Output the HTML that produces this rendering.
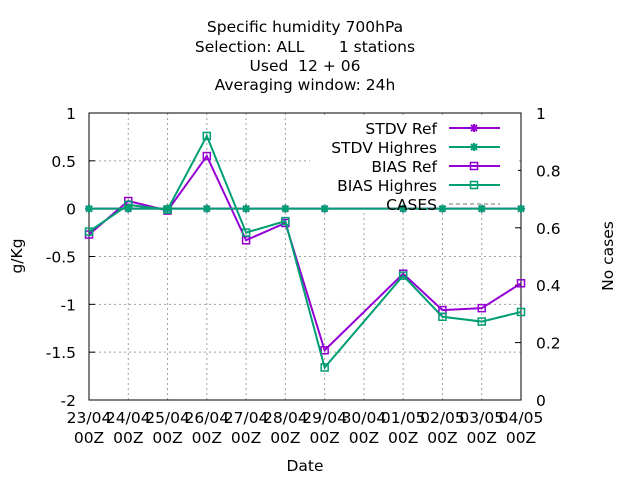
<!DOCTYPE html>
<html><head><meta charset="utf-8"><style>
body{margin:0;background:#fff}
svg{font-family:"DejaVu Sans","Liberation Sans",sans-serif;font-size:15.5px}
text{white-space:pre}
</style></head><body>
<svg width="640" height="480" id="svg">
<g text-anchor="middle" fill="#000">
<text x="305" y="32" xml:space="preserve">Specific humidity 700hPa</text>
<text x="305" y="52" xml:space="preserve">Selection: ALL       1 stations</text>
<text x="305" y="71" xml:space="preserve">Used  12 + 06</text>
<text x="305" y="90" xml:space="preserve">Averaging window: 24h</text>
</g>
<text transform="translate(22,256) rotate(-90)" text-anchor="middle">g/Kg</text>
<text transform="translate(613,256) rotate(-90)" text-anchor="middle">No cases</text>
<text x="305" y="471" text-anchor="middle">Date</text>
<g id="grid"></g><g id="axes"></g><g id="series"></g><g id="legend"></g>
</svg>
<script>
const categories=["23/04","24/04","25/04","26/04","27/04","28/04","29/04","30/04","01/05","02/05","03/05","04/05"];
const stdvRef=[0,0,0,0,0,0,0,null,0,0,0,0];
const stdvHigh=[0,0,0,0,0,0,0,null,0,0,0,0];
const biasRef=[-0.27,0.08,-0.02,0.55,-0.33,-0.15,-1.48,null,-0.68,-1.06,-1.04,-0.78];
const biasHigh=[-0.24,0.04,-0.01,0.76,-0.25,-0.13,-1.66,null,-0.70,-1.13,-1.18,-1.08];
const yTicks=[1,0.5,0,-0.5,-1,-1.5,-2];
const yTickLabels=["1","0.5","0","-0.5","-1","-1.5","-2"];
const y2Ticks=[0,0.2,0.4,0.6,0.8,1];
const y2TickLabels=["0","0.2","0.4","0.6","0.8","1"];
const L=89,R=521,T=113,B=400;
const xs=i=>L+(R-L)*i/(categories.length-1);
const ys=v=>T+(1-v)*(B-T)/3;
const y2s=v=>B-v*(B-T);
const NS="http://www.w3.org/2000/svg";
function mk(parent,tag,attrs){const e=document.createElementNS(NS,tag);for(const k in attrs)e.setAttribute(k,attrs[k]);document.getElementById(parent).appendChild(e);return e;}
categories.forEach((c,i)=>{
 const g=mk('grid','line',{x1:xs(i),x2:xs(i),y1:T,y2:B,stroke:'#a0a0a0','stroke-dasharray':'2,3','stroke-width':1});
 
 
 const t=mk('axes','text',{x:xs(i),y:423,'text-anchor':'middle'});t.textContent=c;
 
 
 const t2=mk('axes','text',{x:xs(i),y:443,'text-anchor':'middle'});t2.textContent="00Z";
 
 
});
yTicks.forEach((v,i)=>{
 const g=mk('grid','line',{x1:L,x2:R,y1:ys(v),y2:ys(v),stroke:'#a0a0a0','stroke-dasharray':'2,3'});
 
 
 const tk=mk('axes','line',{x1:L,x2:L+6,y1:ys(v),y2:ys(v),stroke:'#000'});
 
 
 const t=mk('axes','text',{x:76,y:ys(v)+6,'text-anchor':'end'});t.textContent=yTickLabels[i];
 
 
});
y2Ticks.forEach((v,i)=>{
 const tk=mk('axes','line',{x1:R-6,x2:R,y1:y2s(v),y2:y2s(v),stroke:'#000'});
 
 
 const t=mk('axes','text',{x:536,y:y2s(v)+6,'text-anchor':'start'});t.textContent=y2TickLabels[i];
 
 
});
const fr=mk('axes','rect',{x:L,y:T,width:R-L,height:B-T,fill:'none',stroke:'#000'});


const lb=mk('series','rect',{x:310,y:117,width:208,height:94,fill:'#fff'});


function star(parent,x,y,col){
 const g=mk(parent,'path',{d:`M${x-4},${y}h8M${x},${y-4}v8M${x-3},${y-3}l6,6M${x-3},${y+3}l6,-6`,stroke:col,'stroke-width':2,fill:'none'});
 
 
}
function sq(parent,x,y,col){
 const g=mk(parent,'rect',{x:x-3.5,y:y-3.5,width:7,height:7,stroke:col,'stroke-width':1.5,fill:'none'});
 
 
}
function series(arr,col,mark,name){
 const pts=[];arr.forEach((v,i)=>{if(v!==null)pts.push([xs(i),ys(v)]);});
 const p=mk('series','polyline',{points:pts.map(p=>p.join(',')).join(' '),fill:'none',stroke:col,'stroke-width':2});
 
 
 pts.forEach(q=>mark('series',q[0],q[1],col));
}
const P='#9400d3',G='#009e73';
series(stdvRef,P,star,'stdv-ref-line');
series(biasRef,P,sq,'bias-ref-line');
series(biasHigh,G,sq,'bias-highres-line');
series(stdvHigh,G,star,'stdv-highres-line');
const leg=[["STDV Ref",P,star],["STDV Highres",G,star],["BIAS Ref",P,sq],["BIAS Highres",G,sq],["CASES","#a0a0a0",null]];
leg.forEach((e,i)=>{
 const y=128+i*19;
 const t=mk('legend','text',{x:437,y:y+6,'text-anchor':'end'});t.textContent=e[0];
 
 
 const l=mk('legend','line',{x1:449,x2:500,y1:y,y2:y,stroke:e[1],'stroke-width':e[2]?2:1.5,'stroke-dasharray':e[2]?'':'4,3'});
 
 
 if(e[2])e[2]('legend',474,y,e[1]);
});
</script>
</body></html>
